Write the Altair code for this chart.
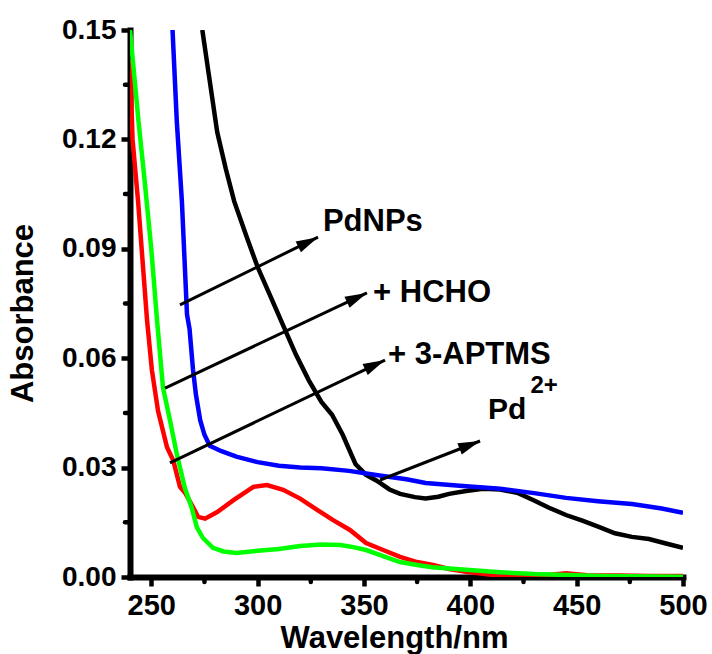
import math
import altair as alt
import pandas as pd

# ---------------- data ----------------
black_wl = [274, 277, 281, 285, 289, 295, 300, 306, 312, 318, 324, 330, 335, 340, 346, 351,
            356, 362, 367, 374, 379, 385, 390, 398, 406, 414, 422, 430, 437, 445, 453, 461,
            468, 476, 484, 492, 500]
black_abs = [0.150, 0.138, 0.122, 0.112, 0.103, 0.093, 0.085, 0.077, 0.069, 0.061, 0.054,
             0.048, 0.0445, 0.039, 0.031, 0.028, 0.0264, 0.024, 0.0228, 0.0219, 0.0215,
             0.0220, 0.0228, 0.0236, 0.0242, 0.0240, 0.0231, 0.021, 0.019, 0.017, 0.0154,
             0.0136, 0.012, 0.011, 0.0104, 0.0092, 0.008]

blue_wl = [260, 262, 264.4, 266.8, 268, 269.6, 271, 273, 275, 277.5, 283, 290, 300, 310, 320,
           330, 343, 359, 370, 379, 395, 414, 430, 445, 460, 476, 490, 500]
blue_abs = [0.150, 0.125, 0.103, 0.072, 0.068, 0.057, 0.050, 0.043, 0.039, 0.036, 0.0345,
            0.033, 0.0315, 0.0305, 0.0300, 0.0298, 0.0291, 0.0277, 0.0268, 0.0258, 0.0250,
            0.0242, 0.0230, 0.0217, 0.0208, 0.0200, 0.0188, 0.0176]

red_wl = [240, 241.2, 243.8, 248, 250.3, 253.2, 257.4, 260.3, 263.5, 266, 269.6, 272, 275.3,
          281, 288.5, 298, 304.4, 312, 320, 328, 335.5, 343.4, 351, 359, 367, 375, 382.5,
          390, 398, 410, 420, 435, 445, 455, 470, 485, 500]
red_abs = [0.142, 0.120, 0.103, 0.0705, 0.0567, 0.0455, 0.0356, 0.032, 0.0247, 0.023, 0.0192,
           0.0165, 0.016, 0.0178, 0.021, 0.0247, 0.0252, 0.0239, 0.0215, 0.0184, 0.0156,
           0.0129, 0.0093, 0.0074, 0.0055, 0.0041, 0.0033, 0.0022, 0.0014, 0.0006, 0.0004,
           0.0005, 0.0010, 0.0005, 0.0004, 0.0003, 0.0003]

green_wl = [240, 244, 247, 250, 252.7, 255.5, 258.8, 262, 265.8, 269, 271.4, 274.3, 279, 284,
            290, 300, 310, 320, 330, 339, 345, 351, 360, 367, 375, 382, 398, 414, 430, 461, 500]
green_abs = [0.150, 0.125, 0.108, 0.090, 0.0705, 0.052, 0.043, 0.0337, 0.0244, 0.019, 0.0137,
             0.0107, 0.0080, 0.0070, 0.0066, 0.0072, 0.0077, 0.0085, 0.0089, 0.0088, 0.0082,
             0.0074, 0.0055, 0.0041, 0.0033, 0.0027, 0.0020, 0.0013, 0.0008, 0.0003, 0.0001]

# annotation arrows (start -> tip), in data units
arrow_x1 = [263.5, 256.5, 258.8, 357.6]
arrow_y1 = [0.0746, 0.0518, 0.0313, 0.0266]
arrow_x2 = [328.4, 351.4, 359.9, 404.6]
arrow_y2 = [0.0932, 0.0779, 0.0595, 0.0373]

# annotation labels
label_text = ["PdNPs", "+ HCHO", "+ 3-APTMS", "Pd", "2+"]
label_wl = [330.7, 354.3, 361.3, 408.3, 428.3]
label_abs = [0.0973, 0.0779, 0.0608, 0.0459, 0.0524]
label_size = [31, 31, 31, 30, 24]

x_major = [250, 300, 350, 400, 450, 500]
x_minor = [275, 325, 375, 425, 475]
y_major = [0, 0.03, 0.06, 0.09, 0.12, 0.15]
y_minor = [0.015, 0.045, 0.075, 0.105, 0.135]

# ---------------- chart ----------------
W, H = 553, 547
FONT = "Liberation Sans"

xscale = alt.Scale(domain=[240, 500], nice=False, zero=False)
yscale = alt.Scale(domain=[0, 0.15], nice=False)

xaxis = alt.Axis(
    values=x_major, title="Wavelength/nm", grid=False, format="d",
    labelFont=FONT, labelFontWeight="bold", labelFontSize=29, labelColor="black",
    labelPadding=5, labelFlush=False, labelOverlap=False,
    titleFont=FONT, titleFontWeight="bold", titleFontSize=31, titleColor="black",
    titlePadding=3, titleX=264,
    domainColor="black", domainWidth=6, domainCap="square",
    tickColor="black", tickWidth=4.5, tickSize=9,
)
yaxis = alt.Axis(
    values=y_major, title="Absorbance", grid=False, format=".2f",
    labelFont=FONT, labelFontWeight="bold", labelFontSize=28, labelColor="black",
    labelPadding=5, labelFlush=False, labelOverlap=False,
    titleFont=FONT, titleFontWeight="bold", titleFontSize=31, titleColor="black",
    titlePadding=22, titleY=283,
    domainColor="black", domainWidth=6, domainCap="square",
    tickColor="black", tickWidth=4.5, tickSize=9,
)


def series(wl, ab, color):
    df = pd.DataFrame({"wl": wl, "A": ab})
    return alt.Chart(df).mark_line(color=color, strokeWidth=4.5, clip=True).encode(
        x=alt.X("wl:Q", scale=xscale, axis=xaxis),
        y=alt.Y("A:Q", scale=yscale, axis=yaxis),
    )


lines = [
    series(black_wl, black_abs, "#000000"),
    series(blue_wl, blue_abs, "#0000ff"),
    series(red_wl, red_abs, "#ff0000"),
    series(green_wl, green_abs, "#00ff00"),
]

# minor ticks (drawn outward from the axis lines)
xminor = alt.Chart(pd.DataFrame({"v": x_minor})).mark_rule(
    color="black", strokeWidth=4.5, strokeCap="round"
).encode(
    x=alt.X("v:Q", scale=xscale, axis=xaxis),
    y=alt.value(H + 2), y2=alt.value(H + 5),
)
yminor = alt.Chart(pd.DataFrame({"v": y_minor})).mark_rule(
    color="black", strokeWidth=4.5, strokeCap="round"
).encode(
    y=alt.Y("v:Q", scale=yscale, axis=yaxis),
    x=alt.value(-2), x2=alt.value(-5),
)

px_nm = W / 260.0
px_a = H / 0.15
angles = [90 - math.degrees(math.atan2((y2 - y1) * px_a, (x2 - x1) * px_nm))
          for x1, y1, x2, y2 in zip(arrow_x1, arrow_y1, arrow_x2, arrow_y2)]
arrows_df = pd.DataFrame({"x1": arrow_x1, "y1": arrow_y1, "x2": arrow_x2, "y2": arrow_y2,
                          "ang": angles})

shafts = alt.Chart(arrows_df).mark_rule(color="black", strokeWidth=3).encode(
    x=alt.X("x1:Q", scale=xscale, axis=xaxis),
    y=alt.Y("y1:Q", scale=yscale, axis=yaxis),
    x2="x2:Q", y2="y2:Q",
)
heads = alt.Chart(arrows_df).mark_point(
    shape="M0,0 L0.55,2 L-0.55,2 Z", filled=True, color="black", opacity=1,
    size=484, strokeWidth=0,
).encode(
    x=alt.X("x2:Q", scale=xscale, axis=xaxis),
    y=alt.Y("y2:Q", scale=yscale, axis=yaxis),
    angle=alt.Angle("ang:Q", scale=None),
)

labels_df = pd.DataFrame({"t": label_text, "x": label_wl, "y": label_abs, "s": label_size})
labels = alt.Chart(labels_df).mark_text(
    font=FONT, fontWeight="bold", align="left", baseline="middle", color="black"
).encode(
    x=alt.X("x:Q", scale=xscale, axis=xaxis),
    y=alt.Y("y:Q", scale=yscale, axis=yaxis),
    text="t:N",
    size=alt.Size("s:Q", scale=None),
)

chart = alt.layer(*lines, xminor, yminor, shafts, heads, labels).properties(
    width=W, height=H,
    autosize=alt.AutoSizeParams(type="none"),
    padding={"left": 130, "top": 30, "right": 29, "bottom": 77},
    background="white",
).configure_view(stroke=None)

chart.save("out.html", embed_options={"renderer": "svg", "actions": False})
